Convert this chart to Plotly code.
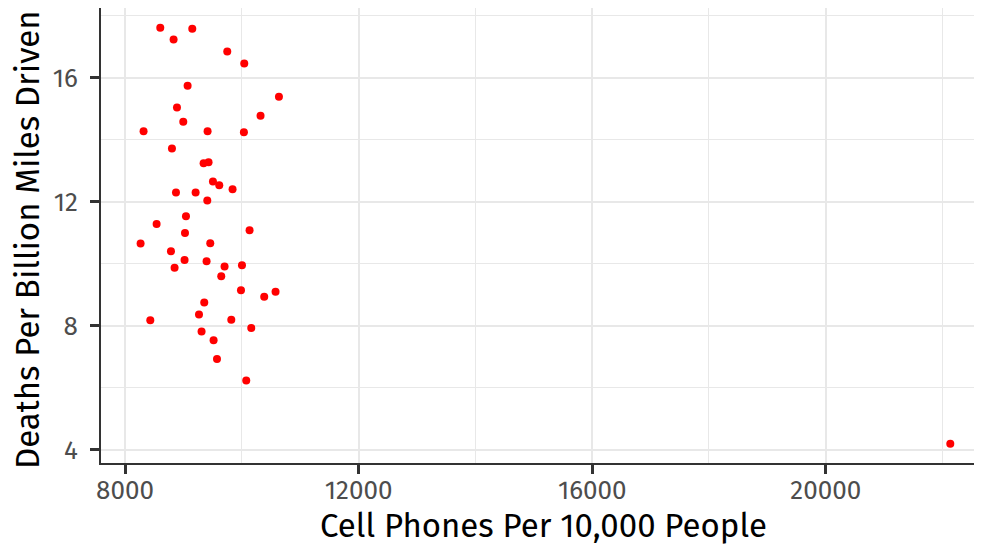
import plotly.graph_objects as go

# Cell phones per 10,000 people (x) and deaths per billion miles driven (y)
cell_phones = [8604, 9152, 8832, 9751, 10042, 9072, 10636, 8890, 10321, 8998,
               8318, 9414, 10036, 8804, 9346, 9431, 9506, 9614, 9842, 8873,
               9209, 9409, 9044, 8541, 10133, 9027, 8267, 9460, 8787, 9020,
               9397, 8849, 9705, 10003, 9648, 9986, 10384, 10578, 9357, 9267,
               8433, 9820, 9311, 10162, 9517, 9575, 10076, 22132]
deaths = [17.61, 17.58, 17.23, 16.85, 16.46, 15.74, 15.39, 15.04, 14.77, 14.58,
          14.27, 14.27, 14.24, 13.72, 13.24, 13.27, 12.65, 12.53, 12.40, 12.30,
          12.30, 12.04, 11.53, 11.28, 11.08, 10.99, 10.65, 10.66, 10.40, 10.12,
          10.08, 9.87, 9.91, 9.95, 9.59, 9.14, 8.93, 9.09, 8.75, 8.36,
          8.17, 8.19, 7.81, 7.92, 7.53, 6.92, 6.23, 4.19]

x_ticks = [8000, 12000, 16000, 20000]
y_ticks = [4, 8, 12, 16]
x_title = "Cell Phones Per 10,000 People"
y_title = "Deaths Per Billion Miles Driven"

FONT = "Fira Sans, Roboto, sans-serif"

fig = go.Figure(go.Scatter(
    x=cell_phones, y=deaths, mode="markers",
    marker=dict(color="#ff0000", size=8, line=dict(width=0)),
    hoverinfo="x+y",
))

# page body has an 8px margin, so the figure is offset by 8px in the window
fig.update_layout(
    width=966, height=539,
    margin=dict(l=93, r=0, t=0, b=84, autoexpand=False),
    paper_bgcolor="white", plot_bgcolor="white",
    font=dict(family=FONT, color="black"),
    showlegend=False,
    annotations=[
        dict(text=x_title, xref="paper", yref="paper", x=0.507, y=-0.1385,
             xanchor="center", yanchor="middle", showarrow=False,
             font=dict(size=33, color="black", family=FONT)),
        dict(text=y_title, xref="paper", yref="paper", x=-0.0836, y=0.49,
             xanchor="center", yanchor="middle", showarrow=False, textangle=-90,
             font=dict(size=33, color="black", family=FONT)),
    ],
)

fig.update_xaxes(
    range=[7589, 22538], automargin=False,
    tickmode="array", tickvals=x_ticks, ticktext=[str(v) for v in x_ticks],
    tickfont=dict(size=26, color="#4d4d4d", family=FONT),
    ticks="outside", ticklen=9, tickwidth=2.5, tickcolor="#333333",
    ticklabelstandoff=-6,
    showline=True, linecolor="#333333", linewidth=2, mirror=True,
    showgrid=True, gridcolor="#e8e8e8", gridwidth=2.2,
    minor=dict(tickvals=[10000, 14000, 18000, 22000], showgrid=True,
               gridcolor="#e8e8e8", gridwidth=1.2, ticks=""),
    zeroline=False,
)

fig.update_yaxes(
    range=[3.567, 18.25], automargin=False,
    tickmode="array", tickvals=y_ticks, ticktext=[str(v) for v in y_ticks],
    tickfont=dict(size=26, color="#4d4d4d", family=FONT),
    ticks="outside", ticklen=9, tickwidth=2.5, tickcolor="#333333",
    ticklabelstandoff=7,
    showline=True, linecolor="#333333", linewidth=2, mirror=False,
    showgrid=True, gridcolor="#e8e8e8", gridwidth=2.2,
    minor=dict(tickvals=[6, 10, 14, 18], showgrid=True,
               gridcolor="#e8e8e8", gridwidth=1.2, ticks=""),
    zeroline=False,
)

fig.write_html("out.html")
